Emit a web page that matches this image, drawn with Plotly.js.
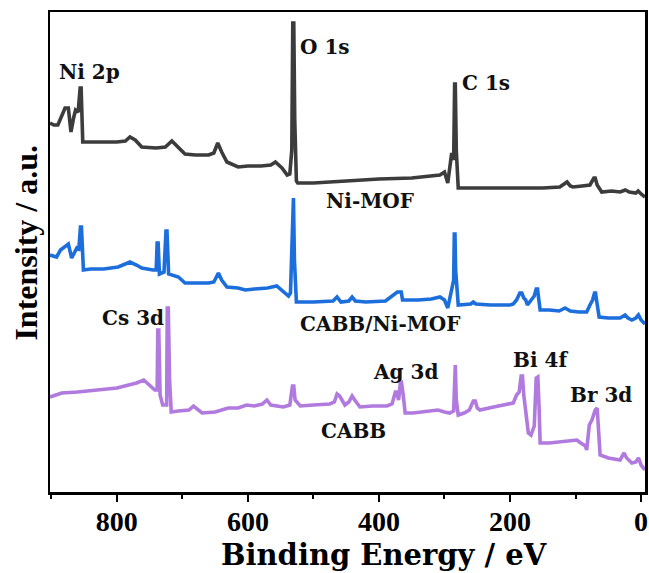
<!DOCTYPE html>
<html>
<head>
<meta charset="utf-8">
<script src="https://cdn.plot.ly/plotly-3.0.1.min.js"></script>
<style>html,body{margin:0;padding:0;background:#fff;}#chart{width:649px;height:573px;}</style>
</head>
<body>
<div id="chart"></div>
<script>
// Binding energy (eV) and intensity (a.u., offset-stacked)
const niMofEnergy = [902,896,890,884,879,874,870,866,863,859,856,854.5,852,840,820,800,787,780,772,762,740,726,716,708,696,680,660,652,646,640,632,615,600,580,565,558,548,540,536,533,531.5,530,528.5,526,524,500,450,400,350,320,307,300,295,289,286,284.5,283.5,282,279,250,200,150,124,118,113,108,104,90,78,72,70,67,60,45,32,24,18,8,4.5,0,-6];
const niMofIntensity = [369,367,367,377,384,384,360,374,382,380,404,404,350,350,350,350,351,355,352,345,344,345,351,346,338,337,337,339,349,340,330,325,326,326,327,330,324,317,318,342,469,469,372,311,309,309,311,313,314,316,317,320,309,339,332,408,408,342,304,304,304,304,305,308,310,306,305,306,307,314,314,307,300,301,300,302,300,299,301,298,295];

const cabbNiMofEnergy = [902,892,886,881,874,869,865,861,858,855.5,854,851,840,820,798,780,770,762,745,740,738.5,737,735,728,725,723.5,721,716,706,696,680,660,652,645,640,632,615,604,590,570,556,548,538,535,531.5,530.5,529,526,500,470,464,458,446,441,436,420,390,374,372,366,364,340,320,307,300,295,289,286,285,284,283,279,260,256,252,230,200,195,190,185,182,179,176,173.5,170,163,160,158,156,154,140,125,116,108,95,83,78,74,71,69.5,68,64,50,32,24.4,20,14,8,4,0,-6];
const cabbNiMofIntensity = [237,235,242,245,248,234,240,244,243,265,265,222,223,223,225,230,227,224,222,222,249,249,218,220,261,261,218,217,215,209,209,209,210,219,212,205,204,202,203,204,206,202,196,199,294,294,232,190,190,191,195,190,191,195,191,190,191,199,200,200,192,192,193,195,192,184,205,212,258,258,222,187,188,190,188,187,187,188,192,199,199,194,192,187,190,196,203,203,192,182,182,181,184,181,180,180,187,192,199,199,192,175,174,174,177,174,172,174,177,172,168];

const cabbEnergy = [902,898,884,860,833,800,782,770,759,750,742,738.5,737.5,736,734,730,724,723,721.5,719.5,717,706,690,683,676,670,650,630,615,602,590,578,571,565,546,536,532,530,528,520,500,475,468,464,460,452,446,441,437,429,410,388,380,375,373,370,367.5,365.5,363,360,348,330,310,300,292,286,284.5,283.5,282,279,270,262,256,253,250,246,225,210,195,190,186,183,181,179,176,172,168,163,160,157.5,155.5,154,140,120,105,98,92,85,83,79,75,70,67,65,62.5,50,32,26,22,14,8,4,0,-6];
const cabbIntensity = [95,96,99,100,102,104,107,109,112,107,102,102,162,162,97,87,87,184,184,112,80,81,82,86,82,79,80,84,84,87,86,88,92,87,85,87,106,106,92,86,87,88,90,98,96,87,90,96,92,85,86,86,88,100,100,92,108,109,97,79,79,80,82,80,79,81,127,127,92,77,79,82,91,91,84,82,85,87,89,97,100,116,116,97,77,59,57,66,114,115,82,49,49,50,51,52,49,46,42,67,72,82,84,62,37,34,32,39,34,29,30,34,27,22];

const xTickVals = [800,600,400,200,0];
const xTickText = ['800','600','400','200','0'];

const labelTexts = ['Ni 2p','O 1s','C 1s','Ni-MOF','CABB/Ni-MOF','Cs 3d','Ag 3d','Bi 4f','Br 3d','CABB'];
const labelEnergy = [841,482,237,414,397,775,360,153,61,439];
const labelIntensity = [420,445,409,291,168,174,120,132,97,61];

const xTitleText = 'Binding Energy / eV';
const yTitleText = 'Intensity / a.u.';

const serif = 'Liberation Serif, Times New Roman, serif';
const wideSerif = 'DejaVu Serif, Liberation Serif, serif';
const lineW = 3.6;

const traces = [
  {x: niMofEnergy, y: niMofIntensity, name: 'Ni-MOF', mode: 'lines', line: {color: 'rgb(60,60,60)', width: lineW}},
  {x: cabbNiMofEnergy, y: cabbNiMofIntensity, name: 'CABB/Ni-MOF', mode: 'lines', line: {color: 'rgb(28,110,220)', width: lineW}},
  {x: cabbEnergy, y: cabbIntensity, name: 'CABB', mode: 'lines', line: {color: 'rgb(176,122,222)', width: lineW}}
];

const annotations = labelTexts.map((t, i) => ({
  x: labelEnergy[i], y: labelIntensity[i], xref: 'x', yref: 'y', text: t, showarrow: false,
  font: {family: wideSerif, size: 20, color: '#111', weight: 'bold'}
}));
annotations.push({
  x: 0.562, y: -0.131, xref: 'paper', yref: 'paper', xanchor: 'center', yanchor: 'middle',
  text: xTitleText, showarrow: false,
  font: {family: wideSerif, size: 29, color: '#000', weight: 'bold'}
});
annotations.push({
  x: -0.04, y: 0.52, xref: 'paper', yref: 'paper', xanchor: 'center', yanchor: 'middle',
  text: yTitleText, textangle: -90, showarrow: false,
  font: {family: serif, size: 32, color: '#000', weight: 'bold'}
});

const layout = {
  width: 649, height: 573,
  margin: {l: 50, r: 4, t: 12, b: 81},
  paper_bgcolor: '#fff', plot_bgcolor: '#fff',
  showlegend: false,
  xaxis: {
    range: [902, -6], tickvals: xTickVals, ticktext: xTickText,
    ticks: 'outside', ticklen: 7, tickwidth: 2, tickcolor: '#000',
    ticklabelstandoff: -4,
    minor: {dtick: 100, tick0: 0, ticks: 'outside', ticklen: 4, tickwidth: 2, tickcolor: '#000'},
    showline: true, linewidth: 2.5, linecolor: '#000', mirror: true,
    showgrid: false, zeroline: false,
    tickfont: {family: serif, size: 28, color: '#000', weight: 'bold'}
  },
  yaxis: {
    range: [0, 480], showticklabels: false, ticks: '',
    showline: true, linewidth: 2.5, linecolor: '#000', mirror: true,
    showgrid: false, zeroline: false
  },
  annotations: annotations
};

Plotly.newPlot('chart', traces, layout, {displayModeBar: false, staticPlot: true});
</script>
</body>
</html>
